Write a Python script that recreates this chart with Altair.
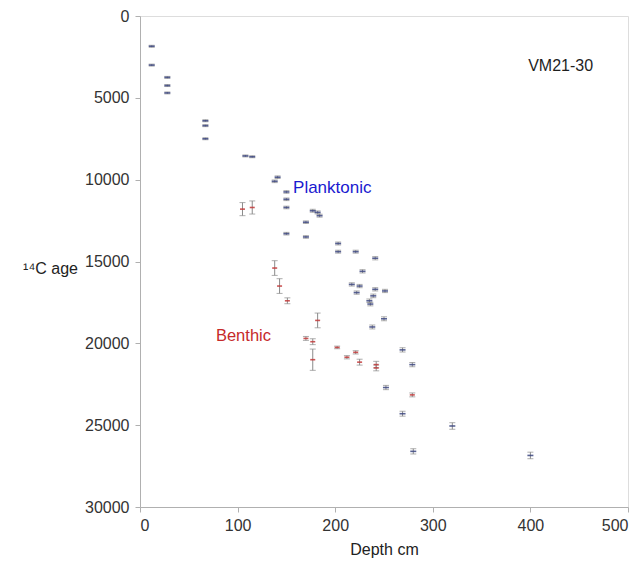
import altair as alt
import pandas as pd

# Planktonic foraminifera ages (depth cm, 14C age, +/- error)
p_depth = [12, 12, 28, 28, 28, 67, 67, 67, 108, 115, 138, 141, 150, 150, 150,
           177, 182, 184, 170, 150, 170, 203, 203, 221, 241, 228, 217, 225, 241,
           251, 222, 239, 235, 236, 250, 238, 269, 279, 252, 269, 320, 280, 400]
p_age = [1850, 3000, 3750, 4250, 4700, 6400, 6700, 7500, 8550, 8600, 10100, 9850,
         10750, 11200, 11700, 11900, 12000, 12200, 12600, 13300, 13500, 13900, 14400,
         14400, 14800, 15600, 16400, 16500, 16700, 16800, 16900, 17100, 17400, 17600,
         18500, 19000, 20400, 21300, 22700, 24300, 25050, 26600, 26850]
p_err = [60, 60, 60, 60, 60, 60, 60, 60, 60, 60, 80, 80, 80, 80, 80,
         90, 90, 90, 80, 80, 80, 90, 90, 90, 100, 100, 100, 100, 100,
         100, 100, 110, 110, 110, 120, 120, 130, 130, 130, 150, 200, 160, 200]

# Benthic foraminifera ages
b_depth = [105, 115, 138, 143, 151, 182, 170, 177, 177, 202, 212, 221, 225, 242, 242, 279]
b_age = [11800, 11700, 15400, 16500, 17400, 18600, 19700, 19900, 21000, 20250, 20850,
         20550, 21150, 21300, 21500, 23150]
b_err = [400, 400, 450, 450, 180, 450, 120, 180, 650, 80, 100, 100, 180, 200, 180, 120]

rows = []
for d, a, e in zip(p_depth, p_age, p_err):
    rows.append(dict(depth=d, age=a, lo=a - e, hi=a + e, group="Planktonic"))
for d, a, e in zip(b_depth, b_age, b_err):
    rows.append(dict(depth=d, age=a, lo=a - e, hi=a + e, group="Benthic"))
df = pd.DataFrame(rows)

label_depth = [431, 197, 106]
label_age = [3050, 10500, 19550]
label_text = ["VM21-30", "Planktonic", "Benthic"]
label_color = ["#1e1e1e", "#1a1ad0", "#c62a2a"]
label_size = [16, 17, 16.5]

axis_common = dict(grid=False, domainColor="#b0b0b0", tickColor="#b0b0b0",
                   tickSize=5, labelColor="#333333", labelFontSize=16,
                   labelFont="Liberation Sans", titleFont="Liberation Sans",
                   titleFontSize=16, titleFontWeight="normal", titleColor="#222222",
                   format="d")

x_enc = alt.X("depth:Q",
              scale=alt.Scale(domain=[0, 500], nice=False, zero=False),
              axis=alt.Axis(values=[0, 100, 200, 300, 400, 500], title="Depth cm",
                            titlePadding=8, labelPadding=5, **axis_common))
y_axis = alt.Axis(values=[0, 5000, 10000, 15000, 20000, 25000, 30000],
                  title="¹⁴C age", titleAngle=0, titleAlign="center",
                  titleBaseline="middle", titleX=-90, titleY=252,
                  labelPadding=6, **axis_common)
y_enc = alt.Y("age:Q", scale=alt.Scale(domain=[0, 30000], reverse=True, nice=False),
              axis=y_axis)

base = alt.Chart(df)
err_color = "#8a8a8a"

bars = base.mark_rule(color=err_color, strokeWidth=1).encode(
    x=x_enc, y=alt.Y("lo:Q"), y2="hi:Q")
cap_lo = base.mark_tick(orient="horizontal", size=6, thickness=1, color=err_color).encode(
    x="depth:Q", y="lo:Q")
cap_hi = base.mark_tick(orient="horizontal", size=6, thickness=1, color=err_color).encode(
    x="depth:Q", y="hi:Q")
p_centers = base.transform_filter(alt.datum.group == "Planktonic").mark_tick(
    orient="horizontal", size=6, thickness=1.6, color="#3c4680", opacity=0.85).encode(
    x="depth:Q", y=y_enc)
b_centers = base.transform_filter(alt.datum.group == "Benthic").mark_tick(
    orient="horizontal", size=5, thickness=1.6, color="#c23a3a", opacity=0.85).encode(
    x="depth:Q", y="age:Q")

texts = []
for d, a, t, c, s in zip(label_depth, label_age, label_text, label_color, label_size):
    texts.append(
        alt.Chart(pd.DataFrame({"depth": [d], "age": [a], "text": [t]}))
        .mark_text(font="Liberation Sans", fontSize=s, align="center",
                   baseline="middle", color=c)
        .encode(x="depth:Q", y="age:Q", text="text:N")
    )

chart = alt.layer(bars, cap_lo, cap_hi, p_centers, b_centers, *texts).properties(
    width=488, height=491,
    autosize=alt.AutoSizeParams(type="none"),
    padding={"left": 132, "top": 8, "right": 8, "bottom": 57},
).configure_view(stroke=None).configure(background="white")

chart.save("out.html", embed_options={"renderer": "svg", "actions": False})
